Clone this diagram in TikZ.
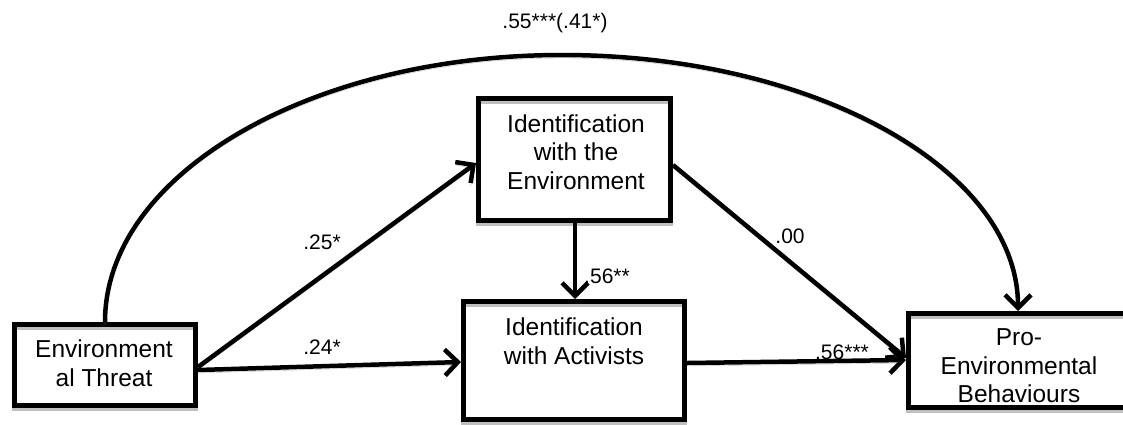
\documentclass[tikz,border=0pt]{standalone}
\usepackage{fontspec}
\setmainfont{Liberation Sans}
\usetikzlibrary{arrows.meta}
\begin{document}
\begin{tikzpicture}[x=1pt,y=-1pt,
  shadowed/.style={preaction={draw=black!25, transform canvas={yshift=-3pt}}},
  boxnode/.style={draw=black, line width=4.5pt, shadowed, rectangle, inner sep=0pt, outer sep=0pt},
  boxtext/.style={align=center, inner sep=0pt, font=\fontsize{24.5}{28.5}\selectfont},
  lbl/.style={inner sep=0pt, font=\fontsize{21}{24}\selectfont},
  conn/.style={line width=4.5pt, shadowed, -{Straight Barb[length=13pt,width=26pt]}}
]
\useasboundingbox (0,0) rectangle (1123,424);
% boxes
\node[boxnode, minimum width=181pt, minimum height=81pt] (env) at (105,365) {};
\node[boxnode, minimum width=192pt, minimum height=122pt] (ide) at (574.5,159.5) {};
\node[boxnode, minimum width=221pt, minimum height=118pt] (act) at (574,360.5) {};
\node[boxnode, minimum width=217pt, minimum height=94pt] (pro) at (1017,360.5) {};
% box texts
\node[boxtext] (envt) at (104,363) {Environment\\al Threat};
\node[boxtext] (idet) at (576,152) {Identification\\with the\\Environment};
\node[boxtext] (actt) at (574,341) {Identification\\with Activists};
\node[boxtext] (prot) at (1019,366) {Pro-\\Environmental\\Behaviours};
% anchor coordinates
\coordinate (envR1) at (198,367);
\coordinate (envR2) at (198,370);
\coordinate (ideL) at (476,163);
\coordinate (actL) at (461,362);
\coordinate (ideB) at (575,223);
\coordinate (actT) at (575,299);
\coordinate (ideR) at (673,165);
\coordinate (proL1) at (906,358);
\coordinate (actR) at (687,363);
\coordinate (proL2) at (906,360);
\coordinate (envT) at (105,322);
\coordinate (proT) at (1018,311);
\coordinate (peak) at (562,55);
% connectors
\draw[conn] (envT) .. controls (105,174.5) and (309.6,55) .. (peak)
  .. controls (814.4,55) and (1018,169.6) .. (proT);
\draw[conn] (envR1) -- (ideL);
\draw[conn] (envR2) -- (actL);
\draw[conn] (ideB) -- (actT);
\draw[conn] (ideR) -- (proL1);
\draw[conn] (actR) -- (proL2);
% labels
\node[lbl] (l1) at (555,23) {.55***(.41*)};
\node[lbl] (l2) at (322,242) {.25*};
\node[lbl] (l3) at (322,347) {.24*};
\node[lbl] (l4) at (607,276) {.56**};
\node[lbl] (l5) at (790,236) {.00};
\node[lbl] (l6) at (842,352) {.56***};
\end{tikzpicture}
\end{document}
